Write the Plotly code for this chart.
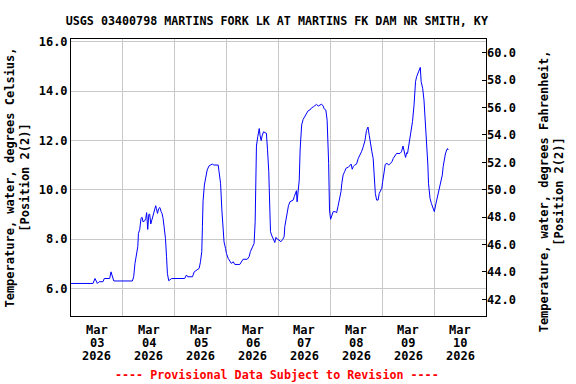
import plotly.graph_objects as go
import pandas as pd

# ---- data ----
start = "2026-03-03 00:00"
hours = [0.0, 10.2, 11.1, 12.2, 13.0, 14.8, 15.4, 17.9, 18.5, 19.8, 28.4, 29.0, 29.6, 30.3, 30.9,
         31.2, 31.8, 32.4, 32.9, 33.3, 34.1, 34.6, 35.0, 35.5, 36.0, 36.4, 36.9, 37.4, 38.0, 38.8,
         39.2, 39.5, 40.0, 40.6, 41.1, 41.7, 42.1, 42.6, 43.2, 43.7, 44.2, 44.6, 45.2, 46.0, 46.6,
         52.6, 53.4, 54.0, 56.2, 57.0, 58.0, 59.3, 59.9, 60.5, 60.8, 61.1, 61.7, 62.4, 63.0, 63.9,
         65.4, 66.1, 68.1, 68.5, 69.2, 69.8, 70.4, 70.8, 71.5, 71.9, 72.7, 73.5, 74.2, 75.0, 75.8,
         78.1, 78.9, 79.6, 81.5, 82.4, 83.0, 83.7, 84.3, 84.7, 85.2, 85.5, 85.8, 86.4, 87.1, 87.5,
         88.0, 88.4, 89.1, 89.8, 90.4, 90.9, 91.5, 92.0, 92.3, 92.8, 93.5, 94.3, 94.8, 95.4, 96.2,
         97.1, 97.9, 98.6, 98.9, 99.4, 100.0, 100.6, 101.3, 102.0, 102.8, 103.3, 103.9, 104.3, 104.6,
         105.1, 105.6, 106.0, 106.7, 107.4, 108.2, 109.0, 109.7, 110.5, 111.3, 112.1, 112.8, 113.6,
         114.4, 115.1, 115.9, 116.7, 117.1, 117.9, 118.5, 119.2, 119.6, 120.1, 120.7, 121.3, 122.2,
         122.9, 123.5, 124.1, 124.4, 124.9, 125.3, 125.9, 126.6, 127.2, 128.3, 129.0, 129.6, 130.1,
         130.6, 131.3, 132.1, 132.9, 133.7, 134.4, 135.2, 136.0, 136.7, 137.4, 138.0, 138.6, 139.2,
         139.8, 140.4, 140.8, 141.4, 142.1, 142.6, 143.2, 143.8, 144.2, 144.8, 145.4, 146.3, 146.9,
         147.9, 148.5, 149.1, 149.9, 150.6, 152.2, 152.9, 153.6, 154.2, 154.8, 155.3, 155.7, 156.3,
         157.0, 157.6, 158.0, 158.7, 159.0, 159.4, 159.9, 160.5, 161.1, 161.6, 162.0, 162.7, 163.3,
         163.7, 164.2, 164.5, 165.1, 165.4, 166.1, 166.7, 167.3, 168.1, 168.7, 169.2, 169.9, 170.7,
         171.2, 171.8, 172.2, 172.7, 173.2, 173.8, 174.2, 174.5]
temp_c = [6.20, 6.20, 6.40, 6.20, 6.27, 6.27, 6.40, 6.40, 6.67, 6.30, 6.30, 6.47, 7.01, 7.35, 7.69,
          8.23, 8.39, 8.84, 8.88, 8.70, 8.74, 8.84, 9.07, 8.39, 9.00, 9.01, 8.61, 8.77, 8.97, 9.31,
          9.35, 9.24, 9.04, 9.24, 9.28, 9.11, 9.04, 8.84, 8.43, 8.03, 7.28, 6.61, 6.31, 6.36, 6.40,
          6.40, 6.54, 6.47, 6.47, 6.67, 6.74, 6.81, 7.08, 7.49, 8.50, 9.55, 10.19, 10.60, 10.80, 10.97,
          11.04, 11.00, 11.00, 10.73, 10.26, 9.18, 8.37, 7.89, 7.62, 7.42, 7.22, 7.08, 7.01, 7.08, 6.97,
          6.97, 7.11, 7.18, 7.18, 7.28, 7.49, 7.65, 7.78, 7.82, 8.70, 10.60, 11.77, 12.15, 12.48, 12.18,
          11.99, 12.18, 12.35, 12.31, 12.29, 11.64, 10.73, 9.18, 8.30, 8.16, 8.03, 7.86, 8.07, 8.00, 7.96,
          7.89, 7.98, 8.09, 8.50, 8.80, 9.18, 9.35, 9.51, 9.55, 9.58, 9.72, 9.85, 9.96, 9.51,
          9.99, 10.39, 11.61, 12.62, 12.85, 12.99, 13.12, 13.20, 13.23, 13.32, 13.36, 13.42, 13.46,
          13.39, 13.42, 13.47, 13.39, 13.28, 13.23, 12.82, 11.07, 9.18, 8.80, 8.97, 9.11, 9.11,
          9.07, 9.31, 9.58, 9.78, 9.92, 10.26, 10.60, 10.73, 10.87, 10.91, 10.96, 11.04, 10.83,
          10.94, 11.00, 11.04, 11.27, 11.41, 11.54, 11.74, 11.99, 12.40, 12.54, 12.20, 11.81, 11.54,
          11.27, 10.53, 9.85, 9.58, 9.58, 9.85, 9.99, 10.06, 10.33, 10.73, 11.03, 11.07, 11.00,
          11.07, 11.14, 11.27, 11.36, 11.47, 11.47, 11.54, 11.77, 11.54, 11.31, 11.50, 11.47, 11.81,
          12.15, 12.49, 12.76, 13.43, 14.18, 14.38, 14.58, 14.74, 14.88, 14.96, 14.38, 14.11, 13.64,
          13.10, 12.54, 11.67, 11.00, 10.26, 9.65, 9.45, 9.31, 9.11, 9.38, 9.58, 9.85, 10.23,
          10.46, 10.60, 10.94, 11.27, 11.45, 11.61, 11.67, 11.61]

day_dates = ["2026-03-03", "2026-03-04", "2026-03-05", "2026-03-06",
             "2026-03-07", "2026-03-08", "2026-03-09", "2026-03-10"]
month_labels = ["Mar"] * 8
day_labels = ["03", "04", "05", "06", "07", "08", "09", "10"]
year_labels = ["2026"] * 8
c_ticks = [6, 8, 10, 12, 14, 16]
f_ticks = [42, 44, 46, 48, 50, 52, 54, 56, 58, 60]
c_range = [4.88, 16.11]

times = pd.Timestamp(start) + pd.to_timedelta(hours, unit="h")
noon = [pd.Timestamp(d) + pd.Timedelta(hours=12) for d in day_dates]
midnights = [pd.Timestamp(d) for d in day_dates] + [pd.Timestamp("2026-03-11")]

FONT = "DejaVu Sans Mono"
fnt = dict(family=FONT, size=12, color="black", weight="bold")

fig = go.Figure()
fig.add_trace(go.Scatter(x=times, y=temp_c, mode="lines",
                         line=dict(color="#0000ff", width=1), showlegend=False))
# invisible trace to activate the Fahrenheit axis
fig.add_trace(go.Scatter(x=[times[0]], y=[temp_c[0] * 1.8 + 32], yaxis="y2", mode="markers",
                         marker=dict(opacity=0), showlegend=False, hoverinfo="skip"))

annotations = [
    dict(text="Temperature, water, degrees Celsius,<br>[Position 2(2)]",
         xref="paper", yref="paper", x=-0.130, y=0.50, textangle=-90,
         showarrow=False, xanchor="center", yanchor="middle",
         font=dict(family=FONT, size=12, color="black", weight="bold")),
    dict(text="Temperature, water, degrees Fahrenheit,<br>[Position 2(2)]",
         xref="paper", yref="paper", x=1.159, y=0.45, textangle=-90,
         showarrow=False, xanchor="center", yanchor="middle",
         font=dict(family=FONT, size=12, color="black", weight="bold")),
    dict(text="---- Provisional Data Subject to Revision ----",
         xref="paper", yref="paper", x=0.496, y=-0.213, showarrow=False,
         xanchor="center", yanchor="middle",
         font=dict(family=FONT, size=11.7, color="red", weight="bold")),
]
# x-axis date labels, three rows per day, positioned on the date axis
for rows, shift in ((month_labels, -14), (day_labels, -27), (year_labels, -40)):
    for xv, txt in zip(noon, rows):
        annotations.append(dict(text=txt, x=xv, xref="x", y=0, yref="paper", yshift=shift,
                                showarrow=False, xanchor="center", yanchor="middle",
                                font=fnt))

fig.update_layout(
    width=576, height=384,
    margin=dict(l=71, r=90, t=39, b=68),
    paper_bgcolor="white", plot_bgcolor="white",
    font=fnt,
    title=dict(text="USGS 03400798 MARTINS FORK LK AT MARTINS FK DAM NR SMITH, KY",
               x=0.496, xref="paper", xanchor="center", y=0.945, yanchor="middle",
               font=dict(family=FONT, size=11.7, color="black", weight="bold")),
    xaxis=dict(range=[midnights[0], midnights[-1]], tickmode="array", tickvals=noon,
               showticklabels=False, showgrid=False, ticks="", showline=True, linecolor="black",
               linewidth=1, mirror=True, zeroline=False, automargin=False,
               minor=dict(tickmode="array", tickvals=midnights, showgrid=True,
                          gridcolor="#c8c8c8", gridwidth=1, ticks="")),
    yaxis=dict(range=c_range, tickmode="array", tickvals=c_ticks, tickformat=".1f",
               showgrid=True, gridcolor="#c8c8c8", gridwidth=1, ticks="", showline=True,
               linecolor="black", linewidth=1, mirror=True, tickfont=fnt, zeroline=False,
               automargin=False),
    yaxis2=dict(range=[c_range[0] * 1.8 + 32, c_range[1] * 1.8 + 32], overlaying="y",
                side="right", tickmode="array", tickvals=f_ticks, tickformat=".1f",
                showgrid=False, ticks="inside", ticklen=4, tickcolor="black",
                tickfont=fnt, zeroline=False, showline=False, automargin=False),
    annotations=annotations,
)

fig.write_html("out.html", config={"displayModeBar": False},
               post_script="document.body.style.margin='0';document.body.style.padding='0';")
